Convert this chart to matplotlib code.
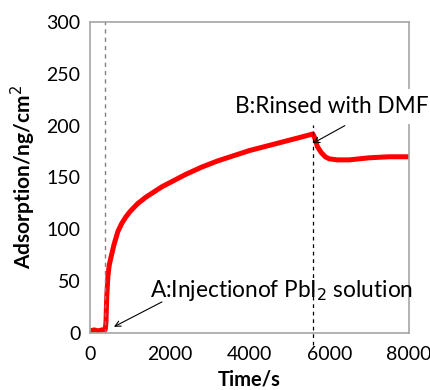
import matplotlib
matplotlib.use("Agg")
import matplotlib.pyplot as plt

# Data
time_s = [0, 100, 200, 300, 380, 400, 420, 450, 480, 520, 600, 700, 800, 900, 1000,
          1200, 1400, 1600, 1800, 2000, 2400, 2800, 3200, 3600, 4000, 4400, 4800,
          5200, 5590, 5650, 5700, 5800, 5900, 6000, 6200, 6500, 7000, 7500, 8000]
adsorption = [2, 3, 2, 3, 3, 10, 35, 55, 65, 72, 85, 98, 106, 112, 117,
              125, 131, 136, 141, 145, 153, 160, 166, 171, 176, 180, 184,
              188, 192, 187, 180, 174, 170, 168, 167, 167, 169, 170, 170]
injection_t = 370
rinse_t = 5590
x_ticks = [0, 2000, 4000, 6000, 8000]
y_ticks = [0, 50, 100, 150, 200, 250, 300]
label_a = 'A:Injectionof PbI$_2$ solution'
label_b = 'B:Rinsed with DMF'

plt.rcParams['font.family'] = ['Lato', 'DejaVu Sans']

fig = plt.figure(figsize=(4.31, 3.90), dpi=100)
ax = fig.add_axes([90/431, 57/390, 319/431, 311/390])

ax.plot(time_s, adsorption, color='#ff0000', lw=3.6, solid_joinstyle='round')

ax.axvline(injection_t, ymin=0, ymax=1.016, color='#808080', ls=(0, (3, 3)), lw=1.0, clip_on=False)
ax.axvline(rinse_t, ymin=-0.04, ymax=0.668, color='black', ls=(0, (3, 3)), lw=0.9, clip_on=False)

ax.set_xlim(0, 8000)
ax.set_ylim(0, 300)
ax.set_xticks(x_ticks)
ax.set_yticks(y_ticks)
ax.tick_params(length=0, labelsize=14, pad=7)
ax.tick_params(axis='x', pad=9)
for s in ax.spines.values():
    s.set_color('#a6a6a6')
    s.set_linewidth(1.2)

ax.set_xlabel('Time/s', fontsize=14.5, fontweight='bold', labelpad=5)
ax.set_ylabel('Adsorption/ng/cm$^2$', fontsize=15, fontweight='bold', labelpad=6)

ax.text(1500, 35, label_a, fontsize=16.3, ha='left', va='baseline', clip_on=False)
ax.annotate('', xy=(600, 6), xytext=(1805, 30),
            arrowprops=dict(arrowstyle='->', color='black', lw=0.8, shrinkA=0, shrinkB=0))
ax.text(3634, 212, label_b, fontsize=16.3, ha='left', va='baseline', clip_on=False,
        zorder=5, bbox=dict(boxstyle='square,pad=0.3', facecolor='white', edgecolor='none'))
ax.annotate('', xy=(5590, 183), xytext=(6390, 200),
            arrowprops=dict(arrowstyle='->', color='black', lw=0.8, shrinkA=0, shrinkB=0))

fig.savefig('out.png', dpi=100)
